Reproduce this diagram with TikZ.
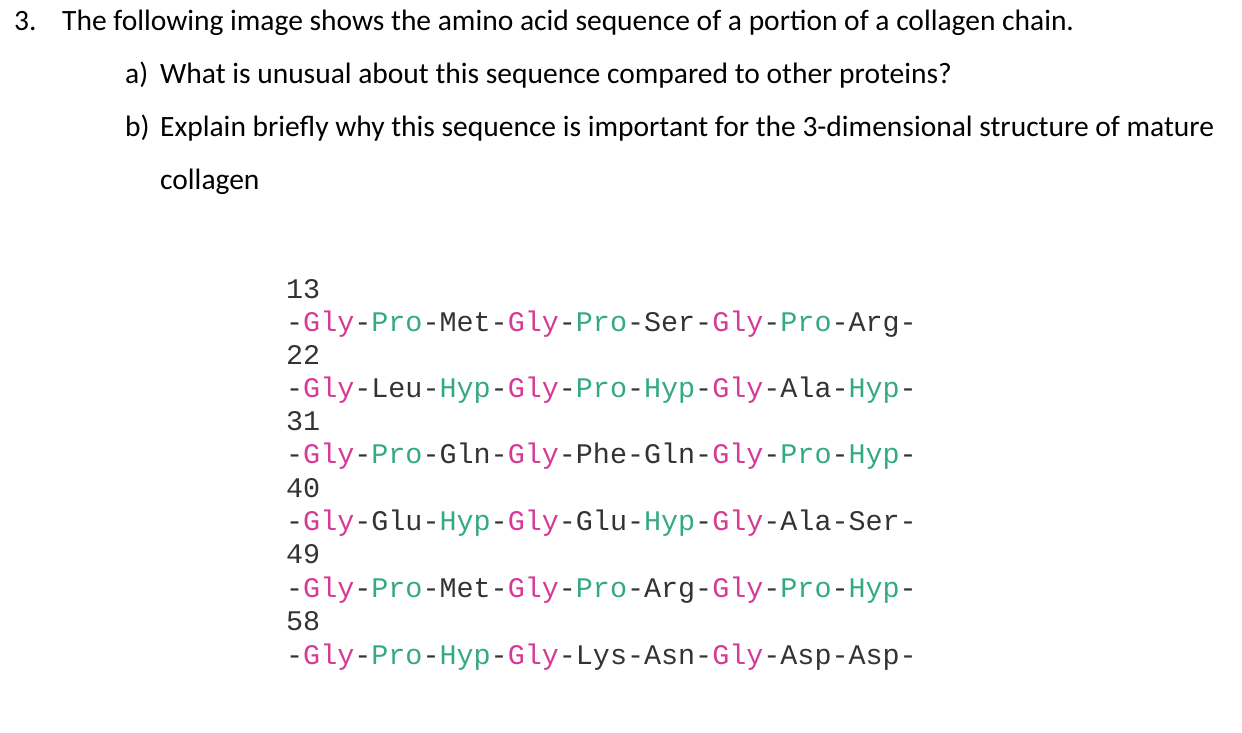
\documentclass[tikz,border=0pt]{standalone}
\usepackage{fontspec}
\setmainfont{Carlito}
\newfontfamily\seqfont{Liberation Mono}
\definecolor{gly}{RGB}{214,58,150}
\definecolor{pro}{RGB}{52,170,130}
\newcommand{\G}{\textcolor{gly}{Gly}}
\newcommand{\Pp}{\textcolor{pro}{Pro}}
\newcommand{\Hy}{\textcolor{pro}{Hyp}}
\begin{document}
\begin{tikzpicture}[x=1pt,y=-1pt,
  q/.style={anchor=base west,inner sep=0pt,font=\fontsize{29.5}{34}\selectfont},
  s/.style={anchor=base west,inner sep=0pt,font=\seqfont\fontsize{28.4}{32}\selectfont,text=black!80}]
\useasboundingbox (0,0) rectangle (1242,732);
\node[q] (n3) at (14,30) {3.};
\node[q] (t) at (62,30) {The following image shows the amino acid sequence of a portion of a collagen chain.};
\node[q] (a) at (125,83) {a)};
\node[q] (at) at (160,83) {What is unusual about this sequence compared to other proteins?};
\node[q] (b) at (125,136) {b)};
\node[q] (bt) at (160,136) {Explain briefly why this sequence is important for the 3-dimensional structure of mature};
\node[q] (bt2) at (160,189) {collagen};
\node[s] (l1) at (286,298) {13};
\node[s] (s1) at (286,331) {-\G-\Pp-Met-\G-\Pp-Ser-\G-\Pp-Arg-};
\node[s] (l2) at (286,364) {22};
\node[s] (s2) at (286,397) {-\G-Leu-\Hy-\G-\Pp-\Hy-\G-Ala-\Hy-};
\node[s] (l3) at (286,430) {31};
\node[s] (s3) at (286,463) {-\G-\Pp-Gln-\G-Phe-Gln-\G-\Pp-\Hy-};
\node[s] (l4) at (286,497) {40};
\node[s] (s4) at (286,530) {-\G-Glu-\Hy-\G-Glu-\Hy-\G-Ala-Ser-};
\node[s] (l5) at (286,563) {49};
\node[s] (s5) at (286,597) {-\G-\Pp-Met-\G-\Pp-Arg-\G-\Pp-\Hy-};
\node[s] (l6) at (286,630) {58};
\node[s] (s6) at (286,664) {-\G-\Pp-\Hy-\G-Lys-Asn-\G-Asp-Asp-};
\end{tikzpicture}
\end{document}
